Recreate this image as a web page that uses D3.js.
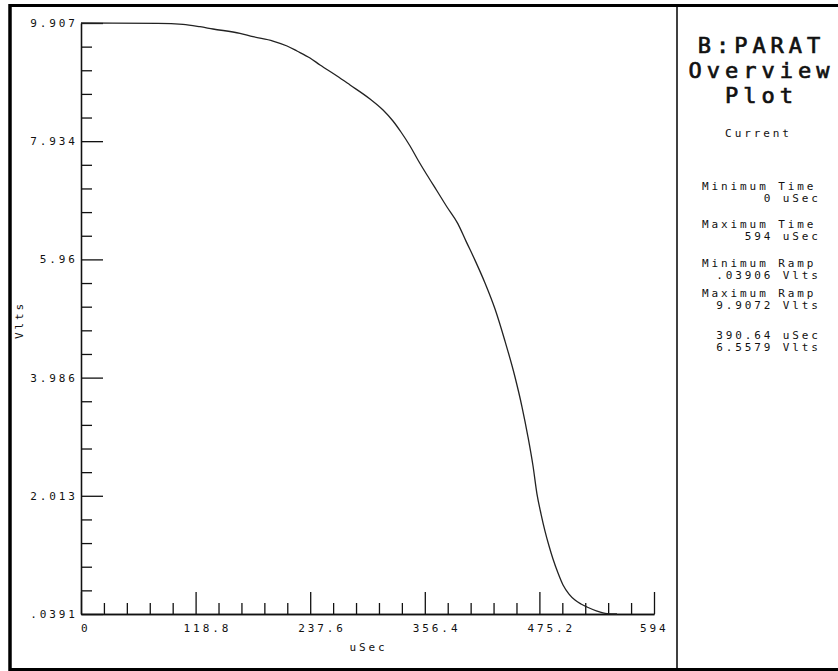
<!DOCTYPE html>
<html>
<head>
<meta charset="utf-8">
<script src="https://cdn.jsdelivr.net/npm/d3@7"></script>
<style>
  body { margin: 0; background: #fff; }
  svg text { font-family: "DejaVu Sans Mono", "Liberation Mono", monospace; fill: #111; }
  .small { font-size: 11px; letter-spacing: 2.9px; }
  .title { font-size: 22px; letter-spacing: 5px; stroke: #111; stroke-width: 0.7px; }
</style>
</head>
<body>
<div id="chart"></div>
<script>
// time axis (uSec) and voltage axis (Vlts) tick labels
const xTickLabels = ["0", "118.8", "237.6", "356.4", "475.2", "594"];
const yTickLabels = [".0391", "2.013", "3.986", "5.96", "7.934", "9.907"];

// ramp: time in uSec, value in Vlts
const timeUs = [0, 79.8, 105.7, 123.4, 136.8, 164.8, 178.3, 199, 213.6, 223.9, 237.4, 247.8, 265.4, 278.9, 299.6, 313.1, 323.4, 331.7, 341.1, 349.3, 358.7, 369.1, 379.4, 390.64, 399.1, 408.4, 418.8, 429.2, 439.5, 449.9, 457.2, 463.4, 468.6, 472.7, 476.9, 481, 485.2, 489.3, 494.5, 499.7, 505.9, 512.1, 518.3, 524.5, 534.9, 545.3, 555.6];
const ramp = [9.907, 9.902, 9.885, 9.845, 9.807, 9.735, 9.678, 9.606, 9.523, 9.439, 9.323, 9.206, 9.022, 8.872, 8.638, 8.454, 8.271, 8.087, 7.853, 7.62, 7.369, 7.102, 6.835, 6.558, 6.265, 5.948, 5.566, 5.131, 4.597, 3.996, 3.495, 2.994, 2.51, 2.042, 1.708, 1.424, 1.174, 0.957, 0.723, 0.523, 0.372, 0.272, 0.206, 0.156, 0.089, 0.047, 0.039];

// side panel text
const titleLines = ["B:PARAT", "Overview", "Plot"];
const infoLines = [
  ["Minimum Time", "0 uSec"],
  ["Maximum Time", "594 uSec"],
  ["Minimum Ramp", ".03906 Vlts"],
  ["Maximum Ramp", "9.9072 Vlts"]
];
const cursorLines = ["390.64 uSec", "6.5579 Vlts"];

const width = 838, height = 671;
const ls = 2.9;

const svg = d3.select("#chart").append("svg")
  .attr("width", width).attr("height", height);

const x = d3.scaleLinear().domain([0, 594]).range([81, 654]);
const y = d3.scaleLinear().domain([0.0391, 9.907]).range([614, 23]);

const xMajor = xTickLabels.map(Number);
const yMajor = yTickLabels.map(Number);
// 4 minor ticks between each pair of labels
const minorOf = arr => d3.merge(arr.slice(0, -1).map((v, i) =>
  d3.range(1, 5).map(k => v + (arr[i + 1] - v) * k / 5)));

// frame
svg.append("line").attr("x1", 10).attr("x2", width).attr("y1", 5.5).attr("y2", 5.5)
  .attr("stroke", "#000").attr("stroke-width", 3);
svg.append("line").attr("x1", 10).attr("x2", 10).attr("y1", 4).attr("y2", 671)
  .attr("stroke", "#000").attr("stroke-width", 3.5);
svg.append("line").attr("x1", 10).attr("x2", width).attr("y1", 669.5).attr("y2", 669.5)
  .attr("stroke", "#000").attr("stroke-width", 3);
svg.append("line").attr("x1", 677).attr("x2", 677).attr("y1", 5).attr("y2", 669)
  .attr("stroke", "#000").attr("stroke-width", 1.5);

// x axis ticks
const gx = svg.append("g").attr("transform", "translate(0,614)");
gx.append("g").call(d3.axisBottom(x).tickValues(minorOf(xMajor)).tickSize(-11).tickSizeOuter(0).tickFormat(""));
gx.append("g").call(d3.axisBottom(x).tickValues(xMajor).tickSize(-22).tickSizeOuter(0).tickFormat(""));
gx.selectAll("path, line").attr("stroke", "#111").attr("stroke-width", 1.3);

svg.selectAll(".xlab").data(xTickLabels).join("text")
  .attr("class", "small xlab")
  .attr("x", (d, i) => i === 0 ? x(+d) : (i === xTickLabels.length - 1 ? x(+d) - 14 : x(+d) - 12))
  .attr("y", 632)
  .text(d => d);

svg.append("text").attr("class", "small")
  .attr("x", 367 + ls / 2).attr("y", 651).attr("text-anchor", "middle").text("uSec");

// y axis ticks
const gy = svg.append("g").attr("transform", "translate(81,0)");
gy.append("g").call(d3.axisLeft(y).tickValues(minorOf(yMajor)).tickSize(-11).tickSizeOuter(0).tickFormat(""));
gy.append("g").call(d3.axisLeft(y).tickValues(yMajor).tickSize(-22).tickSizeOuter(0).tickFormat(""));
gy.selectAll("path, line").attr("stroke", "#111").attr("stroke-width", 1.3);

svg.selectAll(".ylab").data(yTickLabels).join("text")
  .attr("class", "small ylab")
  .attr("x", 75 + ls).attr("y", d => y(+d) + 4)
  .attr("text-anchor", "end")
  .text(d => d);

svg.append("text").attr("class", "small")
  .attr("transform", "translate(23,320) rotate(-90)")
  .attr("text-anchor", "middle").text("Vlts");

// ramp curve
const line = d3.line().x((d, i) => x(timeUs[i])).y(d => y(d)).curve(d3.curveMonotoneX);
svg.append("path").datum(ramp)
  .attr("d", line)
  .attr("fill", "none").attr("stroke", "#222").attr("stroke-width", 1.3);

// side panel
svg.selectAll(".ttl").data(titleLines).join("text")
  .attr("class", "title ttl")
  .attr("x", 759 + 2.5).attr("y", (d, i) => 53 + i * 25)
  .attr("text-anchor", "middle").text(d => d);

svg.append("text").attr("class", "small")
  .attr("x", 757 + ls / 2).attr("y", 137).attr("text-anchor", "middle").text("Current");

const infoY = [190, 228, 267, 297];
infoLines.forEach((pair, i) => {
  svg.append("text").attr("class", "small")
    .attr("x", 702).attr("y", infoY[i]).text(pair[0]);
  svg.append("text").attr("class", "small")
    .attr("x", 818 + ls).attr("y", infoY[i] + 12).attr("text-anchor", "end").text(pair[1]);
});

cursorLines.forEach((t, i) => {
  svg.append("text").attr("class", "small")
    .attr("x", 818 + ls).attr("y", 339 + i * 12).attr("text-anchor", "end").text(t);
});
</script>
</body>
</html>
